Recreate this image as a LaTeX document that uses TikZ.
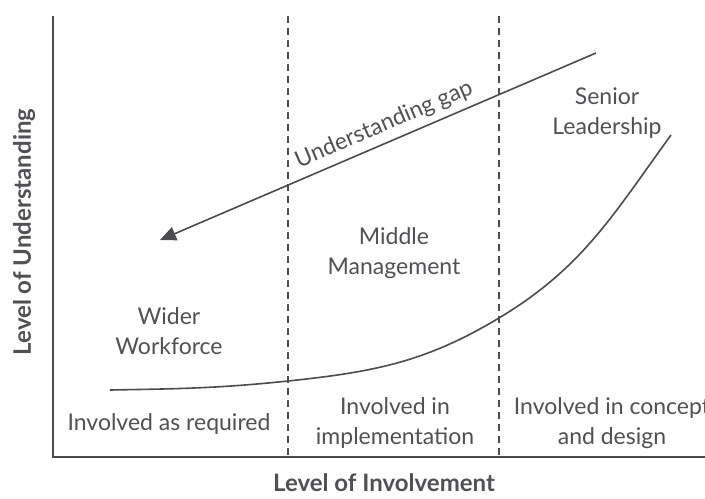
\documentclass[tikz,border=0pt]{standalone}
\usepackage{fontspec}
\setmainfont{Lato}
\usetikzlibrary{arrows.meta}
\definecolor{ink}{HTML}{4B4B50}
\definecolor{txt}{HTML}{505055}
\tikzset{
  axis/.style={draw=ink, line width=1.2pt},
  divider/.style={draw=ink, line width=1pt, dash pattern=on 3.6pt off 2.4pt},
  trend/.style={draw=ink, line width=0.8pt},
  lbl/.style={text=txt, font=\fontsize{11.5}{15}\selectfont, align=center},
  axlbl/.style={text=txt, font=\fontsize{12}{14}\selectfont\bfseries}
}
\begin{document}
\begin{tikzpicture}[x=0.5pt, y=0.5pt]
\useasboundingbox (0,0) rectangle (705,498);
\coordinate (top) at (53,482);
\coordinate (origin) at (53,41);
\coordinate (right) at (705,41);
\coordinate (d1top) at (288,482);
\coordinate (d1bot) at (288,41);
\coordinate (d2top) at (499,482);
\coordinate (d2bot) at (499,41);
\coordinate (gapstart) at (596,445);
\coordinate (gapend) at (160,258);
\coordinate (c1) at (110,108);
\coordinate (c2) at (288,117);
\coordinate (c3) at (499,180);
\coordinate (c4) at (671,363);
\draw[axis] (top) -- (origin) -- (right);
\draw[divider] (d1top) -- (d1bot);
\draw[divider] (d2top) -- (d2bot);
\draw[trend, -{Triangle[length=8pt, width=7pt]}] (gapstart) -- node[lbl, sloped, above, pos=0.47, inner sep=3pt] {Understanding gap} (gapend);
\draw[trend] (c1) to[out=1, in=186] (c2) to[out=6, in=211] (c3) to[out=31, in=234] (c4);
\node[lbl] (senior) at (607,385) {Senior\\Leadership};
\node[lbl] (middle) at (394,245) {Middle\\Management};
\node[lbl] (wider) at (169,167) {Wider\\Workforce};
\node[lbl] (asreq) at (169,74) {Involved as required};
\node[lbl] (impl) at (395,75) {Involved in\\implementation};
\node[lbl] (concept) at (612,75) {Involved in concept\\and design};
\node[axlbl] (xlabel) at (384,15) {Level of Involvement};
\node[axlbl, rotate=90] (ylabel) at (24,266) {Level of Understanding};
\end{tikzpicture}
\end{document}
